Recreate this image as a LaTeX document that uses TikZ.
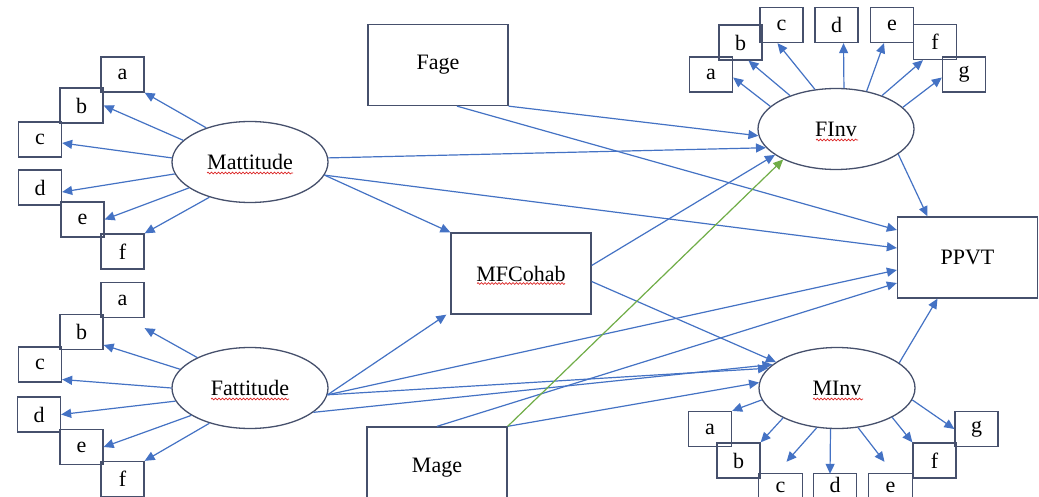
\documentclass[tikz,border=0pt]{standalone}
\usepackage{fontspec}
\setmainfont{Liberation Serif}
\usetikzlibrary{shapes.geometric,arrows.meta,decorations.pathmorphing}
\definecolor{arr}{RGB}{68,114,196}
\definecolor{bord}{RGB}{70,80,108}
\definecolor{grn}{RGB}{112,173,71}
\definecolor{wavyred}{RGB}{220,40,40}
\begin{document}
\begin{tikzpicture}[x=1pt,y=-1pt,
 every node/.style={font=\fontsize{22}{24}\selectfont, inner sep=0pt},
 sbox/.style={draw=bord, line width=1.3pt, minimum width=43pt, minimum height=35pt},
 cutbox/.style={minimum width=43pt, minimum height=23pt, text height=14pt, text depth=0pt},
 cutframe/.style={draw=bord, line width=1.3pt},
 bbox/.style={draw=bord, line width=1.3pt, minimum width=140pt, minimum height=81pt},
 lat/.style={ellipse, draw=bord, line width=1.3pt, minimum width=156pt, minimum height=81pt},
 con/.style={draw=arr, line width=1.2pt, -{Triangle[length=10pt,width=9pt]}},
 gcon/.style={con, draw=grn},
 wav/.style={draw=wavyred, line width=0.7pt, decorate, decoration={snake, amplitude=0.9pt, segment length=3.5pt}}
]
\useasboundingbox (0,0) rectangle (1039,497);
\fill[white] (0,0) rectangle (1039,497);
\clip (0,0) rectangle (1039,497);

% latent variables
\node[lat] (Mat) at (250,162) {Mattitude};
\node[lat] (Fat) at (250,388) {Fattitude};
\node[lat] (FInv) at (836,129) {FInv};
\node[lat] (MInv) at (837,388) {MInv};
% observed boxes
\node[bbox] (Fage) at (438,65) {Fage};
\node[bbox] (MFC) at (521,273.5) {MFCohab};
\node[bbox] (Mage) at (437,467.5) {Mage};
\node[bbox] (PPVT) at (967.5,257.5) {PPVT};

% spell-check underlines
\draw[wav] ([xshift=-43pt,yshift=-11pt]Mat.center) -- ([xshift=43pt,yshift=-11pt]Mat.center);
\draw[wav] ([xshift=-39pt,yshift=-11pt]Fat.center) -- ([xshift=39pt,yshift=-11pt]Fat.center);
\draw[wav] ([xshift=-44pt,yshift=-10pt]MFC.center) -- ([xshift=44pt,yshift=-10pt]MFC.center);
\draw[wav] ([xshift=-20pt,yshift=-11pt]FInv.center) -- ([xshift=22pt,yshift=-11pt]FInv.center);
\draw[wav] ([xshift=-24pt,yshift=-11pt]MInv.center) -- ([xshift=26pt,yshift=-11pt]MInv.center);

% Mattitude indicators
\node[sbox] (ma) at (122.5,74.5) {a};
\node[sbox] (mb) at (81.5,105.5) {b};
\node[sbox] (mc) at (40,139.5) {c};
\node[sbox] (md) at (40,187.5) {d};
\node[sbox] (me) at (82.5,219.5) {e};
\node[sbox] (mf) at (122.5,251.5) {f};
% Fattitude indicators
\node[sbox] (fa) at (122.5,300) {a};
\node[sbox] (fb) at (81.5,332) {b};
\node[sbox] (fc) at (40,364.5) {c};
\node[sbox] (fd) at (39,414.5) {d};
\node[sbox] (fe) at (81.5,447) {e};
\node[sbox] (ff) at (122.5,479) {f};
% FInv indicators
\node[sbox] (fia) at (711,74.5) {a};
\node[sbox] (fib) at (740.5,42.5) {b};
\node[sbox] (fic) at (781.5,25) {c};
\node[sbox] (fid) at (836.5,25) {d};
\node[sbox] (fie) at (892,25) {e};
\node[sbox] (fif) at (935,42) {f};
\node[sbox] (fig) at (964,74.5) {g};
% MInv indicators
\node[sbox] (mia) at (710,429) {a};
\node[sbox] (mib) at (738.5,460.5) {b};
\node[cutbox] (mic) at (780.5,485.5) {c};
\node[cutbox] (mid) at (835,485.5) {d};
\node[cutbox] (mie) at (890.5,485.5) {e};
\node[sbox] (mif) at (934.5,460.5) {f};
\node[sbox] (mig) at (976.5,429) {g};
% frames of the boxes cut by the lower edge
\draw[cutframe] ([yshift=-2pt]mic.south west) -- (mic.north west) -- (mic.north east) -- ([yshift=-2pt]mic.south east);
\draw[cutframe] ([yshift=-2pt]mid.south west) -- (mid.north west) -- (mid.north east) -- ([yshift=-2pt]mid.south east);
\draw[cutframe] ([yshift=-2pt]mie.south west) -- (mie.north west) -- (mie.north east) -- ([yshift=-2pt]mie.south east);

% loadings Mattitude
\draw[con] (Mat.142) -- (ma.south east);
\draw[con] (Mat.162) -- (mb.east);
\draw[con] (Mat.177) -- ([yshift=-3.5pt]mc.east);
\draw[con] (Mat.189) -- ([yshift=-4.5pt]md.east);
\draw[con] (Mat.203) -- (me.east);
\draw[con] (Mat.221) -- (mf.north east);
% loadings Fattitude
\draw[con] (Fat.150) -- ([yshift=-10pt]fa.south east);
\draw[con] (Fat.165) -- ([yshift=-13pt]fb.east);
\draw[con] (Fat.180) -- ([yshift=-15pt]fc.east);
\draw[con] (Fat.190) -- (fd.east);
\draw[con] (Fat.205) -- (fe.east);
\draw[con] (Fat.221) -- (ff.north east);
% loadings FInv
\draw[con] (FInv.161) -- ([yshift=-3pt]fia.east);
\draw[con] (FInv.144) -- ([xshift=8pt]fib.south);
\draw[con] (FInv.118) -- ([xshift=-4pt]fic.south);
\draw[con] (FInv.79) -- ([xshift=7pt]fid.south);
\draw[con] (FInv.51) -- ([xshift=-8pt]fie.south);
\draw[con] (FInv.36) -- ([xshift=-12pt]fif.south);
\draw[con] (FInv.18) -- ([yshift=-3pt]fig.west);
% loadings MInv
\draw[con] (MInv.189) -- (mia.north east);
\draw[con] (MInv.209) -- (mib.north east);
\draw[con] (MInv.243) -- ([xshift=6pt,yshift=12pt]mic.north);
\draw[con] (MInv.261) -- ([xshift=-5pt]mid.north);
\draw[con] (MInv.298) -- ([xshift=-6pt,yshift=12pt]mie.north);
\draw[con] (MInv.332) -- (mif.north west);
\draw[con] (MInv.351) -- (mig.west);

% structural paths
\draw[con] (Fage.south east) -- (FInv.185);
\draw[con] ([xshift=19pt]Fage.south) -- ([yshift=27.5pt]PPVT.west);
\draw[con] (Mat.3) -- (FInv.195);
\draw[con] (Mat.350) -- ([yshift=9.5pt]PPVT.west);
\draw[con] (Mat.350) -- (MFC.north west);
\draw[con] (Fat.355) -- ([xshift=-4pt]MFC.south west);
\draw[con] (Fat.355) -- ([yshift=-12.5pt]PPVT.west);
\draw[con] (Fat.355) -- (MInv.164);
\draw[con] (Fat.339) -- (MInv.160);
\draw[con] ([yshift=8pt]MFC.east) -- (FInv.203);
\draw[con] ([yshift=-8pt]MFC.east) -- (MInv.157);
\draw[con] (Mage.north) -- ([yshift=-25.5pt]PPVT.west);
\draw[con] (Mage.north east) -- (MInv.176);
\draw[gcon] (Mage.north east) -- (FInv.210);
\draw[con] (FInv.338) -- ([xshift=-40pt]PPVT.north);
\draw[con] (MInv.22) -- ([xshift=-30pt]PPVT.south);
\end{tikzpicture}
\end{document}
